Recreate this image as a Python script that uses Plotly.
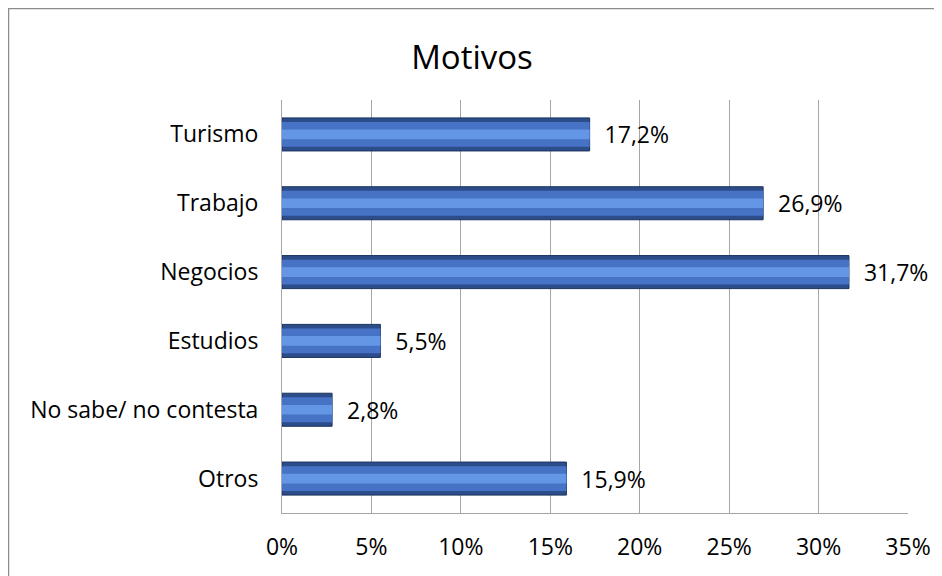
import plotly.graph_objects as go

categories = ["Turismo", "Trabajo", "Negocios", "Estudios", "No sabe/ no contesta", "Otros"]
values = [17.2, 26.9, 31.7, 5.5, 2.8, 15.9]
tick_vals = [0, 5, 10, 15, 20, 25, 30, 35]
tick_text = ["0%", "5%", "10%", "15%", "20%", "25%", "30%", "35%"]
labels = ["\u00a0\u00a0" + f"{v:.1f}%".replace(".", ",") for v in values]

FONT = "Open Sans"
FS = 23

# plot area (figure coordinates)
L, R, T, B = 274, 42, 92, 71
PW, PH = 942 - L - R, 576 - T - B

fig = go.Figure()
# base bar (dark edge)
fig.add_trace(go.Bar(
    y=categories, x=values, orientation="h",
    marker=dict(color="#2C4C8A", line=dict(color="#1B335F", width=1)),
    width=0.48, text=labels, textposition="outside",
    textfont=dict(family=FONT, size=FS, color="#000000"),
    cliponaxis=False, hoverinfo="skip", showlegend=False,
))
# body
fig.add_trace(go.Bar(
    y=categories, x=values, orientation="h",
    marker=dict(color="#4673C6", line=dict(width=0)),
    width=0.36, hoverinfo="skip", showlegend=False,
))
# highlight stripe
fig.add_trace(go.Bar(
    y=categories, x=values, orientation="h",
    marker=dict(color="#6496E6", line=dict(width=0)),
    width=0.14, hoverinfo="skip", showlegend=False,
))

fig.update_layout(
    width=942, height=576,
    barmode="overlay",
    separators=",.",
    paper_bgcolor="white", plot_bgcolor="white",
    margin=dict(l=L, r=R, t=T, b=B),
    title=dict(text="Motivos", x=464 / 942, xanchor="center",
               y=1 - 49 / 576, yanchor="middle",
               font=dict(family=FONT, size=33, color="#000000")),
    xaxis=dict(range=[0, 35], tickvals=tick_vals, ticktext=tick_text,
               showgrid=True, gridcolor="#A6A6A6", gridwidth=1,
               showline=True, linecolor="#A6A6A6", linewidth=1,
               ticks="", ticklabelstandoff=13, zeroline=False, automargin=False,
               tickfont=dict(family=FONT, size=FS, color="#000000")),
    yaxis=dict(autorange="reversed", showline=True, linecolor="#A6A6A6", linewidth=1,
               ticks="", ticklabelstandoff=18, showgrid=False, automargin=False,
               tickfont=dict(family=FONT, size=FS, color="#000000")),
    shapes=[dict(type="rect", xref="paper", yref="paper",
                 x0=-(L - 0.5) / PW, x1=1 + (R + 20) / PW, y0=-0.5, y1=1 + (T - 0.5) / PH,
                 line=dict(color="#8C8C8C", width=1.5), fillcolor="rgba(0,0,0,0)", layer="below")],
)

fig.write_html("out.html")
